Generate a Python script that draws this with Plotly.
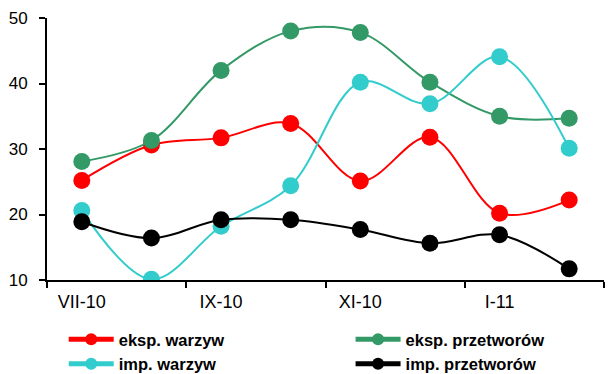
import plotly.graph_objects as go

months = ["VII-10", "VIII-10", "IX-10", "X-10", "XI-10", "XII-10", "I-11", "II-11"]
eksp_warzyw = [25.2, 30.6, 31.7, 33.9, 25.1, 31.8, 20.2, 22.2]
eksp_przetworow = [28.1, 31.3, 42.0, 48.0, 47.8, 40.2, 35.0, 34.7]
imp_warzyw = [20.6, 10.1, 18.2, 24.4, 40.2, 36.9, 44.1, 30.1]
imp_przetworow = [18.9, 16.4, 19.2, 19.2, 17.7, 15.6, 16.9, 11.7]

tick_labels = ["VII-10", "IX-10", "XI-10", "I-11"]

series = [
    ("eksp. warzyw", eksp_warzyw, "#FF0000", "legend"),
    ("eksp. przetworów", eksp_przetworow, "#339966", "legend2"),
    ("imp. warzyw", imp_warzyw, "#33CCCC", "legend"),
    ("imp. przetworów", imp_przetworow, "#000000", "legend2"),
]

x_idx = list(range(len(months)))

fig = go.Figure()
for name, vals, col, lg in series:
    fig.add_trace(go.Scatter(
        x=x_idx, y=vals, name=name, mode="lines+markers",
        line=dict(color=col, width=2, shape="spline", smoothing=1.0),
        marker=dict(color=col, size=17),
        hovertext=months, legend=lg,
    ))

legend_font = dict(size=16.5, family="Liberation Sans, Arial, sans-serif", weight="bold")
common_legend = dict(
    orientation="v", yref="container", y=0.142, xanchor="left", yanchor="top",
    itemwidth=45, itemsizing="constant", font=legend_font,
    traceorder="normal", bgcolor="rgba(0,0,0,0)", tracegroupgap=0,
)

fig.update_layout(
    width=607, height=366,
    margin=dict(l=39, r=11, t=10, b=94, autoexpand=False),
    paper_bgcolor="white", plot_bgcolor="white",
    font=dict(family="Liberation Sans, Arial, sans-serif", size=18, color="black"),
    showlegend=True,
    legend=dict(x=0.03, **common_legend),
    legend2=dict(x=0.545, **common_legend),
    xaxis=dict(
        range=[-0.5, 7.5], showgrid=False, zeroline=False,
        showline=True, linecolor="black", linewidth=2,
        tickvals=[x_idx[i] for i in (0, 2, 4, 6)], ticktext=tick_labels,
        ticks="", ticklen=0, ticklabelstandoff=4,
        minor=dict(tick0=-0.5, dtick=2, ticks="outside", ticklen=6, tickwidth=2, tickcolor="black", showgrid=False),
        tickfont=dict(size=18),
    ),
    yaxis=dict(
        range=[10, 50], dtick=10, showgrid=False, zeroline=False,
        showline=True, linecolor="black", linewidth=2,
        ticks="outside", ticklen=6, tickwidth=2, tickcolor="black",
        ticklabelstandoff=8, ticklabeloverflow="allow",
        tickfont=dict(size=17),
    ),
)

fig.write_html("out.html")
